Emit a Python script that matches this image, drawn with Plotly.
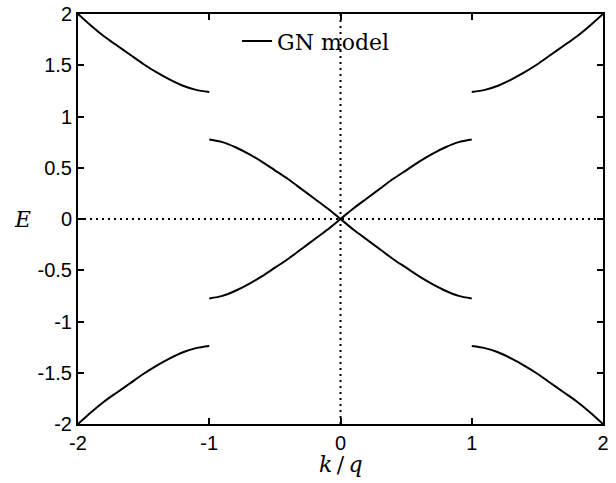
import plotly.graph_objects as go

# Read-off values (k/q, E)
k_outer_right = [1.0, 1.1, 1.2, 1.3, 1.4, 1.5, 1.6, 1.7, 1.8, 1.9, 2.0]
E_outer_right = [1.24, 1.26, 1.30, 1.36, 1.43, 1.51, 1.60, 1.69, 1.78, 1.885, 2.0]

k_inner = [-1.0, -0.9, -0.8, -0.7, -0.6, -0.5, -0.4, -0.3, -0.2, -0.1, 0.0,
           0.1, 0.2, 0.3, 0.4, 0.5, 0.6, 0.7, 0.8, 0.9, 1.0]
E_inner = [-0.775, -0.75, -0.70, -0.635, -0.56, -0.475, -0.39, -0.295, -0.20, -0.105, 0.0,
           0.105, 0.20, 0.295, 0.39, 0.475, 0.56, 0.635, 0.70, 0.75, 0.775]

x_ticks = [-2, -1, 0, 1, 2]
y_ticks = [-2, -1.5, -1, -0.5, 0, 0.5, 1, 1.5, 2]
y_tick_text = ["-2", "-1.5", "-1", "-0.5", "0", "0.5", "1", "1.5", "2"]

bands = [
    (k_outer_right, E_outer_right),
    (k_outer_right, [-e for e in E_outer_right]),
    ([-k for k in k_outer_right], E_outer_right),
    ([-k for k in k_outer_right], [-e for e in E_outer_right]),
    (k_inner, E_inner),
    (k_inner, [-e for e in E_inner]),
]

fig = go.Figure()
fig.add_trace(go.Scatter(x=[-2, 2], y=[0, 0], mode="lines",
                         line=dict(color="black", width=2, dash="2px,4px"),
                         showlegend=False, hoverinfo="skip"))
fig.add_trace(go.Scatter(x=[0, 0], y=[-2, 2], mode="lines",
                         line=dict(color="black", width=2, dash="2px,4px"),
                         showlegend=False, hoverinfo="skip"))
for i, (kx, ey) in enumerate(bands):
    fig.add_trace(go.Scatter(x=list(kx), y=list(ey), mode="lines", name="GN model",
                             line=dict(color="black", width=2, shape="spline", smoothing=0.8),
                             showlegend=(i == 0), legendgroup="gn"))

axis_common = dict(showgrid=False, zeroline=False, showline=True, linecolor="black",
                   linewidth=2, mirror="ticks", ticks="inside", ticklen=6,
                   tickwidth=1.5, tickcolor="black", automargin=False,
                   tickfont=dict(family="Liberation Sans, Arial", size=20, color="black"))

fig.update_layout(
    width=616, height=483,
    margin=dict(l=78, r=13, t=14, b=59),
    paper_bgcolor="white", plot_bgcolor="white",
    xaxis=dict(range=[-2, 2], tickvals=x_ticks, ticktext=[str(v) for v in x_ticks],
               ticklabelstandoff=0, **axis_common),
    yaxis=dict(range=[-2, 2], tickvals=y_ticks, ticktext=y_tick_text,
               **axis_common),
    showlegend=True,
    legend=dict(x=0.303, y=0.985, xanchor="left", yanchor="top", bgcolor="rgba(0,0,0,0)",
                font=dict(family="DejaVu Serif", size=22, color="black"),
                itemwidth=30),
    annotations=[
        dict(text="<i>E</i>", x=0, xref="paper", xshift=-56, y=0.5, yref="paper",
             xanchor="center", yanchor="middle", showarrow=False,
             font=dict(family="DejaVu Serif", size=22, color="black")),
        dict(text="<i>k</i>\u2009/\u2009<i>q</i>", x=0.5, xref="paper", y=0, yref="paper",
             yshift=-40, xanchor="center", yanchor="middle", showarrow=False,
             font=dict(family="DejaVu Serif", size=22, color="black")),
    ],
)
fig.write_html("out.html", config={"displayModeBar": False},
               post_script="document.body.style.margin='0px';")
